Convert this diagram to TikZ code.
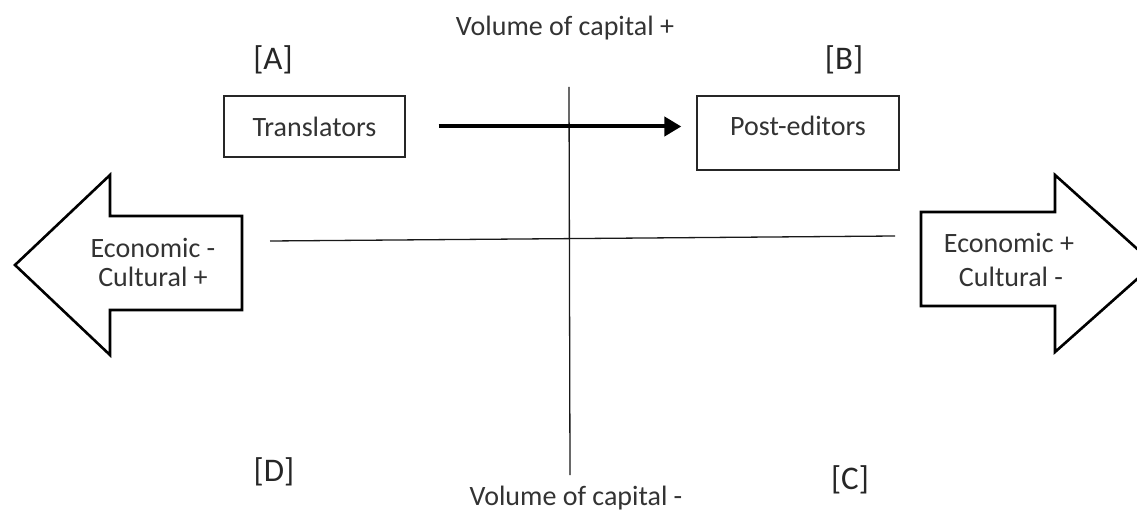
\documentclass[tikz,border=0pt]{standalone}
\usepackage{fontspec}
\setmainfont{Carlito}
\usetikzlibrary{arrows.meta}
\tikzset{
  txt/.style={font=\fontsize{28}{32}\selectfont, text=black!80, inner sep=0pt},
  quad/.style={font=\fontsize{33}{36}\selectfont, text=black!85, inner sep=0pt},
  boxnode/.style={draw=black!85, line width=1.3pt, fill=white, inner sep=0pt},
  axis/.style={draw=black!90, line width=1.3pt},
  bigarrow/.style={draw=black, line width=2.6pt, fill=white, line join=miter},
  moveto/.style={draw=black, line width=4pt, -{Triangle[length=17pt,width=19pt]}}
}
\begin{document}
\begin{tikzpicture}[x=1pt,y=-1pt]
\clip (0,0) rectangle (1137,518);
\fill[white] (0,0) rectangle (1137,518);
% big arrows
\draw[bigarrow] (15,265) -- (110,175) -- (110,216) -- (242,216) -- (242,310) -- (110,310) -- (110,355) -- cycle;
\draw[bigarrow] (1154,264) -- (1055,175) -- (1055,212) -- (921,212) -- (921,306) -- (1055,306) -- (1055,352) -- cycle;
\node[txt, align=center] (ecl1) at (153,248) {Economic -};
\node[txt, align=center] (ecl2) at (153,277) {Cultural +};
\node[txt, align=center] (ecr1) at (1009,243) {Economic +};
\node[txt, align=center] (ecr2) at (1011,277) {Cultural -};
% axes
\coordinate (hl) at (270,241);
\coordinate (hr) at (895,236);
\coordinate (vt) at (569,87);
\coordinate (vb) at (570,475);
\draw[axis] (hl) -- (hr);
\draw[axis] (vt) -- (vb);
% axis labels
\node[txt] (vplus) at (565,28) {Volume of capital +};
\node[txt] (vminus) at (576,498) {Volume of capital -};
% quadrant labels
\node[quad] (qa) at (273,60) {[A]};
\node[quad] (qb) at (844,60) {[B]};
\node[quad] (qc) at (850,480) {[C]};
\node[quad] (qd) at (274,472) {[D]};
% boxes
\node[boxnode, minimum width=181pt, minimum height=61pt] (tr) at (314.5,126.5) {};
\node[txt] (trt) at (tr.center) {Translators};
\node[boxnode, minimum width=202pt, minimum height=74pt] (pe) at (798,133) {};
\node[txt] (pet) at (798,126) {Post-editors};
% move arrow
\draw[moveto, shorten <=33pt, shorten >=15pt] (tr.east) -- (tr.east -| pe.west);
\end{tikzpicture}
\end{document}
